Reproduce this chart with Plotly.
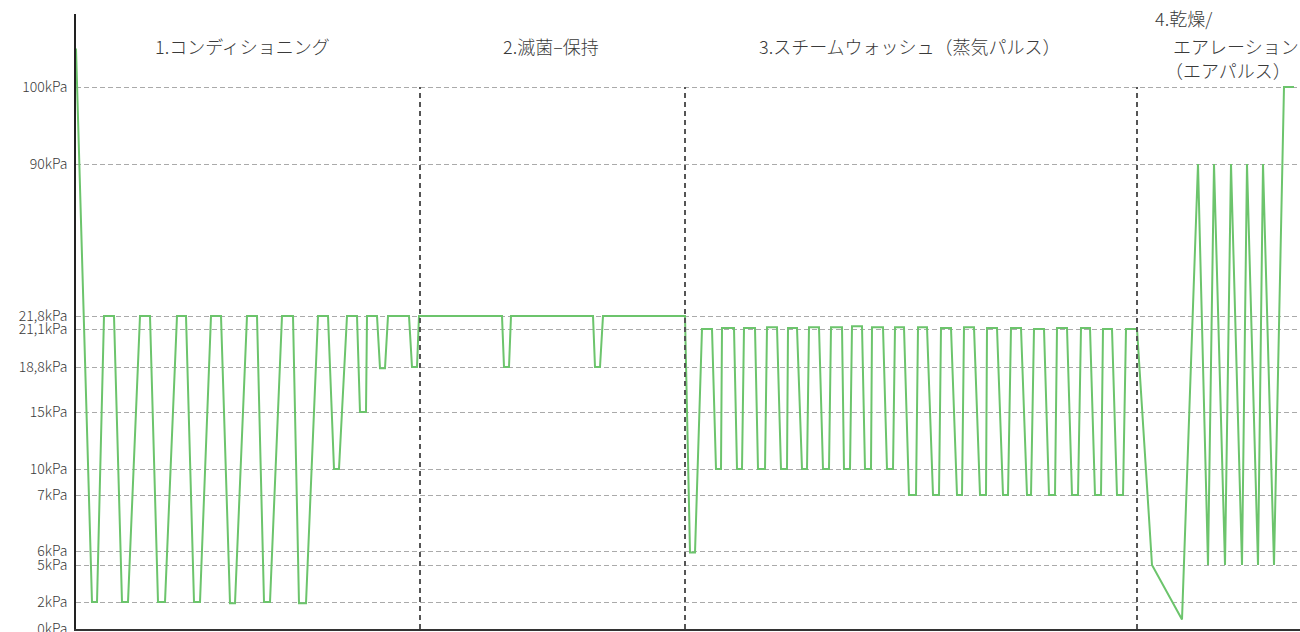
import numpy as np
import plotly.graph_objects as go

# ---- data (time in arbitrary units, pressure in kPa) ----
t_conditioning = [0, 16, 21, 28, 38, 46, 52, 64, 74, 82, 89, 101, 110, 118, 124, 135, 145,
                  154, 159, 171, 181, 188, 194, 206, 217, 223, 230, 242, 252, 258, 263,
                  271, 281, 284, 290, 291, 301, 304, 309, 312, 333, 336, 341, 343]
p_conditioning = [105, 2, 2, 21.8, 21.8, 2, 2, 21.8, 21.8, 2, 2, 21.8, 21.8, 2, 2, 21.8, 21.8,
                  1.9, 1.9, 21.8, 21.8, 2, 2, 21.8, 21.8, 1.9, 1.9, 21.8, 21.8, 10, 10,
                  21.8, 21.8, 15, 15, 21.8, 21.8, 18.7, 18.7, 21.8, 21.8, 18.8, 18.8, 21.8]

t_sterilization = [426, 428, 433, 435, 517, 519, 524, 527, 609]
p_sterilization = [21.8, 18.8, 18.8, 21.8, 21.8, 18.8, 18.8, 21.8, 21.8]

t_steam_wash = [614, 619, 626, 636, 640, 645, 646, 658, 661, 666, 668, 679, 682, 689, 691, 701,
                705, 711, 712, 721, 726, 731, 733, 743, 747, 753, 755, 766, 768, 774, 776, 786,
                789, 795, 796, 807, 811, 817, 819, 828, 833, 840, 842, 851, 857, 863, 865, 875,
                881, 886, 888, 898, 904, 910, 911, 921, 927, 932, 935, 945, 951, 955, 958, 968,
                973, 979, 981, 991, 996, 1002, 1005, 1014, 1019, 1025, 1027, 1036, 1041, 1047,
                1050, 1061]
p_steam_wash = [5.9, 5.9, 21.1, 21.1, 10, 10, 21.15, 21.15, 10, 10, 21.15, 21.15, 10, 10, 21.2, 21.2,
                10, 10, 21.15, 21.15, 10, 10, 21.2, 21.2, 10, 10, 21.2, 21.2, 10, 10, 21.25, 21.25,
                10, 10, 21.2, 21.2, 10, 10, 21.2, 21.2, 7, 7, 21.2, 21.2, 7, 7, 21.15, 21.15,
                7, 7, 21.2, 21.2, 7, 7, 21.15, 21.15, 7, 7, 21.15, 21.15, 7, 7, 21.1, 21.1,
                7, 7, 21.15, 21.15, 7, 7, 21.15, 21.15, 7, 7, 21.1, 21.1, 7, 7,
                21.1, 21.1]

t_drying = [1076, 1106, 1122, 1132, 1138, 1149, 1155, 1166, 1171, 1182, 1187, 1198, 1208, 1218]
p_drying = [5, 0.7, 90, 5, 90, 5, 90, 5, 90, 5, 90, 5, 100, 100]

# y-axis tick values (kPa), labels and their position on the (non-linear) display scale
tick_values = [0, 2, 5, 6, 7, 10, 15, 18.8, 21.1, 21.8, 90, 100]
tick_labels = ["0kPa", "2kPa", "5kPa", "6kPa", "7kPa", "10kPa", "15kPa", "18,8kPa",
               "21,1kPa", "21,8kPa", "90kPa", "100kPa"]
tick_scale = [0, 27, 64, 78, 134, 160, 217, 262, 300, 313, 465, 542]

phase_bounds = [344, 609, 1061]
phase_labels = ["1.コンディショニング", "2.滅菌–保持", "3.スチームウォッシュ（蒸気パルス）"]
phase_label_x = [166, 475, 834]


def to_scale(v):
    v = np.asarray(v, dtype=float)
    out = np.interp(v, tick_values, tick_scale)
    hi = v > tick_values[-1]
    slope = (tick_scale[-1] - tick_scale[-2]) / (tick_values[-1] - tick_values[-2])
    out[hi] = tick_scale[-1] + (v[hi] - tick_values[-1]) * slope
    return out


t_all = t_conditioning + t_sterilization + t_steam_wash + t_drying
p_all = p_conditioning + p_sterilization + p_steam_wash + p_drying

fig = go.Figure()
fig.add_trace(go.Scatter(
    x=t_all, y=to_scale(p_all), mode="lines",
    line=dict(color="#6cc46c", width=2),
    customdata=p_all, hovertemplate="%{customdata} kPa<extra></extra>",
    showlegend=False, cliponaxis=False,
))

font_family = "Noto Sans CJK JP"
label_font = dict(family=font_family, size=18, color="#3a3a3a", weight=300)
for xb in phase_bounds:
    fig.add_shape(type="line", x0=xb, x1=xb, y0=0, y1=float(to_scale([100])[0]),
                  xref="x", yref="y",
                  line=dict(color="#555555", width=2, dash="5px,4px"))

for lab, lx in zip(phase_labels, phase_label_x):
    fig.add_annotation(x=lx, y=583, text=lab, showarrow=False, xanchor="center",
                       yanchor="middle", font=label_font)

fig.add_annotation(x=1077, y=611, text="4.乾燥/", showarrow=False, xanchor="left",
                   yanchor="middle", font=label_font)
fig.add_annotation(x=1095, y=583, text="エアレーション", showarrow=False, xanchor="left",
                   yanchor="middle", font=label_font)
fig.add_annotation(x=1087, y=559, text="（エアパルス）", showarrow=False, xanchor="left",
                   yanchor="middle", font=label_font)

fig.update_layout(
    width=1300, height=632,
    margin=dict(l=76, r=0, t=14, b=3),
    paper_bgcolor="white", plot_bgcolor="white",
    font=dict(family=font_family, color="#3a3a3a"),
    xaxis=dict(range=[0, 1224], showgrid=False, zeroline=False, showticklabels=False,
               automargin=False,
               ticks="", showline=True, linecolor="#333333", linewidth=1.5, fixedrange=True),
    yaxis=dict(range=[0, 615], tickmode="array", tickvals=tick_scale, ticktext=tick_labels,
               showgrid=True, gridcolor="#aaaaaa", gridwidth=1, griddash="5px,3px",
               zeroline=False, ticks="", ticklabelstandoff=4, ticklabeloverflow="allow",
               automargin=False,
               tickfont=dict(family=font_family, size=14, color="#3a3a3a", weight=300),
               showline=True, linecolor="#222222", linewidth=1.5, fixedrange=True),
)

fig.write_html("out.html", config={"displayModeBar": False},
               post_script="document.body.style.margin='0';document.body.style.overflow='hidden';")
